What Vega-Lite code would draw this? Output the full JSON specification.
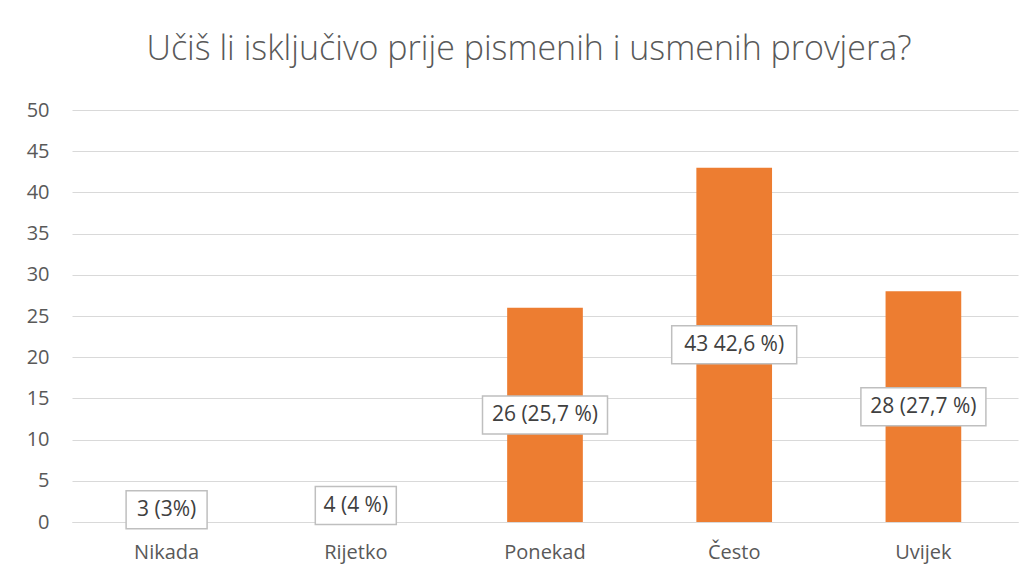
{
  "$schema": "https://vega.github.io/schema/vega-lite/v6.json",
  "width": 946,
  "height": 412,
  "autosize": {"type": "none"},
  "padding": {"left": 72, "top": 110, "right": 15, "bottom": 53},
  "background": "white",
  "title": {
    "text": "Učiš li isključivo prije pismenih i usmenih provjera?",
    "font": "Open Sans",
    "fontWeight": 300,
    "fontSize": 34,
    "color": "#595959",
    "anchor": "middle",
    "baseline": "alphabetic",
    "offset": 6,
    "dx": -16
  },
  "config": {"view": {"stroke": null}},
  "data": {
    "values": [
      {"odgovor": "Nikada", "broj": 3, "oznaka": "3 (3%)"},
      {"odgovor": "Rijetko", "broj": 4, "oznaka": "4 (4 %)"},
      {"odgovor": "Ponekad", "broj": 26, "oznaka": "26 (25,7 %)"},
      {"odgovor": "Često", "broj": 43, "oznaka": "43 42,6 %)"},
      {"odgovor": "Uvijek", "broj": 28, "oznaka": "28 (27,7 %)"}
    ]
  },
  "encoding": {
    "x": {
      "field": "odgovor",
      "type": "nominal",
      "sort": null,
      "scale": {"paddingInner": 0.6, "paddingOuter": 0.3},
      "axis": {
        "title": null,
        "labelAngle": 0,
        "ticks": false,
        "domainColor": "#d9d9d9",
        "labelFont": "Open Sans",
        "labelFontSize": 20,
        "labelColor": "#595959",
        "labelPadding": 20
      }
    }
  },
  "layer": [
    {
      "mark": {"type": "bar", "color": "#ED7D31"},
      "encoding": {
        "y": {
          "field": "broj",
          "type": "quantitative",
          "scale": {"domain": [0, 50]},
          "axis": {
            "title": null,
            "values": [0, 5, 10, 15, 20, 25, 30, 35, 40, 45, 50],
            "grid": true,
            "gridColor": "#d9d9d9",
            "domain": false,
            "ticks": false,
            "labelFont": "Open Sans",
            "labelFontSize": 20,
            "labelColor": "#595959",
            "labelPadding": 23
          }
        }
      }
    },
    {
      "transform": [{"calculate": "datum.broj / 2", "as": "sredina"}, {"filter": "datum.broj < 10"}],
      "mark": {"type": "bar", "width": 81, "fill": "white", "stroke": "#bfbfbf", "strokeWidth": 1.5, "yOffset": 19, "y2Offset": -19},
      "encoding": {
        "y": {"field": "sredina", "type": "quantitative"},
        "y2": {"field": "sredina"}
      }
    },
    {
      "transform": [{"calculate": "datum.broj / 2", "as": "sredina"}, {"filter": "datum.broj >= 10"}],
      "mark": {"type": "bar", "width": 125, "fill": "white", "stroke": "#bfbfbf", "strokeWidth": 1.5, "yOffset": 19, "y2Offset": -19},
      "encoding": {
        "y": {"field": "sredina", "type": "quantitative"},
        "y2": {"field": "sredina"}
      }
    },
    {
      "transform": [{"calculate": "datum.broj / 2", "as": "sredina"}],
      "mark": {"type": "text", "font": "Open Sans", "fontSize": 21, "color": "#404040", "baseline": "middle", "align": "center"},
      "encoding": {
        "y": {"field": "sredina", "type": "quantitative"},
        "text": {"field": "oznaka"}
      }
    }
  ]
}
